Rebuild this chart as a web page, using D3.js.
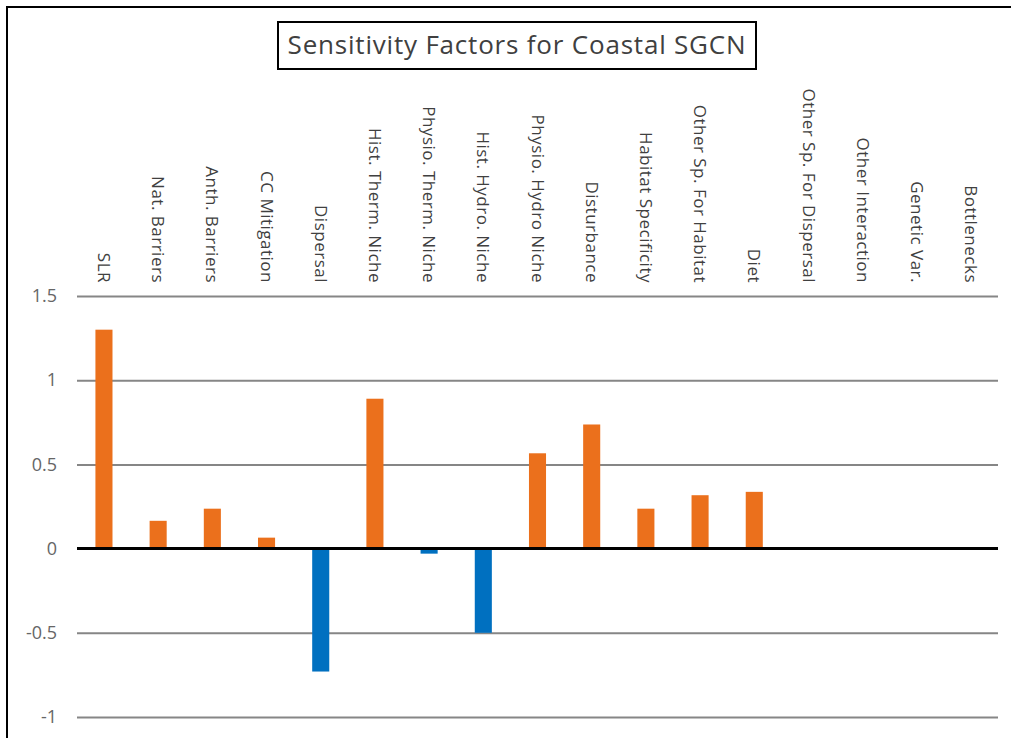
<!DOCTYPE html>
<html><head><meta charset="utf-8">
<script src="https://cdn.jsdelivr.net/npm/d3@7"></script>
<style>body{margin:0;background:#fff}svg{display:block}</style>
</head><body>
<svg id="c" width="1011" height="738"></svg>
<script>
const categories = ["SLR","Nat. Barriers","Anth. Barriers","CC Mitigation","Dispersal","Hist. Therm. Niche","Physio. Therm. Niche","Hist. Hydro. Niche","Physio. Hydro Niche","Disturbance","Habitat Specificity","Other Sp. For Habitat","Diet","Other Sp. For Dispersal","Other Interaction","Genetic Var.","Bottlenecks"];
const values = [1.30,0.165,0.237,0.065,-0.73,0.89,-0.03,-0.50,0.566,0.737,0.237,0.317,0.337,0,0,0,0];
const yTicks = [-1,-0.5,0,0.5,1,1.5];
const title = "Sensitivity Factors for Coastal SGCN";

const svg = d3.select("#c");
const W = 1011, H = 738;
const x = d3.scaleBand().domain(categories).range([77, 998]).paddingInner(0.685).paddingOuter(0.34);
const y = d3.scaleLinear().domain([-1, 1.5]).range([717, 296]);

// outer frame
svg.append("rect").attr("x",7).attr("y",7).attr("width",W+20).attr("height",H+20)
  .attr("fill","#fff").attr("stroke","#000").attr("stroke-width",2);

// grid + y labels
const yAxis = d3.axisLeft(y).tickValues(yTicks).tickSize(-(998-77)).tickPadding(20)
  .tickFormat(d => String(d));
const gy = svg.append("g").attr("transform","translate(77,0)").call(yAxis);
gy.select(".domain").remove();
gy.selectAll(".tick line").attr("stroke","#868686").attr("stroke-width",2);
gy.selectAll(".tick text").attr("fill","#666").style("font-family","Open Sans").style("font-size","18px");

// bars
svg.append("g").selectAll("rect").data(values.map((v,i)=>({c:categories[i],v})))
  .join("rect")
  .attr("x", d => x(d.c))
  .attr("width", x.bandwidth())
  .attr("y", d => y(Math.max(0,d.v)))
  .attr("height", d => Math.abs(y(d.v)-y(0)))
  .attr("fill", d => d.v >= 0 ? "#EB701C" : "#0070C0");

// zero line
svg.append("line").attr("x1",77).attr("x2",998).attr("y1",y(0)).attr("y2",y(0))
  .attr("stroke","#000").attr("stroke-width",3);

// category labels (rotated)
const xAxis = d3.axisTop(x).tickSize(0).tickPadding(0);
const gx = svg.append("g").attr("transform","translate(0,283)").call(xAxis);
gx.select(".domain").remove();
gx.selectAll(".tick text")
  .attr("transform","rotate(90)")
  .attr("x",0).attr("y",0).attr("dy","0.35em")
  .attr("text-anchor","end")
  .attr("fill","#404040")
  .style("font-family","Open Sans").style("font-size","17px").style("letter-spacing","0.5px");

// title box
const tg = svg.append("g");
tg.append("rect").attr("x",278).attr("y",22).attr("width",478).attr("height",47)
  .attr("fill","#fff").attr("stroke","#000").attr("stroke-width",2);
tg.append("text").attr("x",517).attr("y",45).attr("dy","0.35em")
  .attr("text-anchor","middle").attr("fill","#404040")
  .style("font-family","Open Sans").style("font-size","26px").style("letter-spacing","0.8px").text(title);
</script>
</body></html>
